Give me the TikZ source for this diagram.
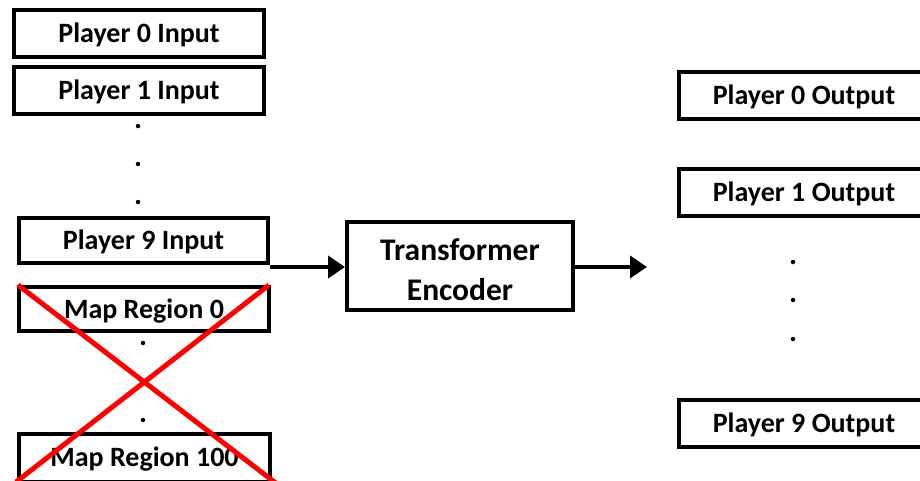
\documentclass[tikz,border=0pt]{standalone}
\usepackage{fontspec}
\setmainfont{Carlito}
\usetikzlibrary{arrows.meta}
\begin{document}
\begin{tikzpicture}[x=1pt,y=-1pt,
  box/.style={draw=black, line width=4pt, fill=white, inner sep=0pt,
    minimum width=250pt, minimum height=47pt,
    text height=20pt, text depth=2pt,
    font=\fontsize{28}{32}\selectfont\bfseries},
  encbox/.style={draw=black, line width=4pt, fill=white, inner sep=0pt,
    minimum width=226pt, minimum height=88pt,
    text height=68pt, text depth=0pt,
    align=center, font=\fontsize{31.5}{39.5}\selectfont\bfseries},
  dotm/.style={circle, fill=black, inner sep=0pt, minimum size=4.5pt},
  flow/.style={line width=4pt, -{Triangle[length=17pt,width=22pt]}},
  cross/.style={draw=red, line width=5pt}
]
\useasboundingbox (0,0) rectangle (920,480);

% input tokens
\node[box] (in0) at (139,33.5) {Player 0 Input};
\node[box] (in1) at (139,90) {Player 1 Input};
\node[dotm] (d1) at (138,126) {};
\node[dotm] (d2) at (138,164) {};
\node[dotm] (d3) at (138,202) {};
\node[box, minimum width=249pt, minimum height=45.5pt] (in9) at (143.5,240.5) {Player 9 Input};
\node[box, minimum width=250pt, minimum height=44.5pt] (map0) at (144,309) {Map Region 0};
\node[dotm] (d4) at (143,343) {};
\node[dotm] (d5) at (143,420) {};
\node[box, minimum width=251pt, minimum height=48pt] (map100) at (144.5,457.5) {Map Region 100};

% map regions struck out
\coordinate (xa) at (18,285);
\coordinate (xb) at (277,484);
\coordinate (xc) at (269,285);
\coordinate (xd) at (16,482);
\draw[cross] (xa) -- (xb);
\draw[cross] (xc) -- (xd);

% encoder
\node[encbox] (enc) at (460,266) {Transformer\\Encoder};
\coordinate (outend) at (647,267);
\draw[flow] (in9.east |- 0,267) -- (enc.west |- 0,267);
\draw[flow] (enc.east |- 0,267) -- (outend);

% output tokens
\node[box] (out0) at (804,95) {Player 0 Output};
\node[box] (out1) at (804,192) {Player 1 Output};
\node[dotm] (d6) at (793,262) {};
\node[dotm] (d7) at (793,300) {};
\node[dotm] (d8) at (793,339) {};
\node[box] (out9) at (804,423.5) {Player 9 Output};
\end{tikzpicture}
\end{document}
